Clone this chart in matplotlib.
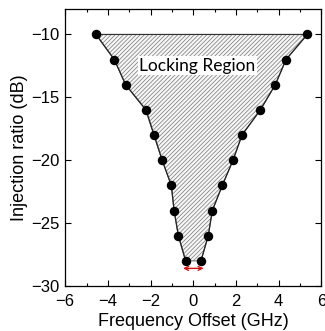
import matplotlib
matplotlib.use("Agg")
import matplotlib.pyplot as plt
import numpy as np
from matplotlib.ticker import MultipleLocator

# measured locking boundaries
ratio_db = [-10, -12, -14, -16, -18, -20, -22, -24, -26, -28]
left_ghz = [-4.56, -3.70, -3.17, -2.22, -1.84, -1.46, -1.03, -0.90, -0.70, -0.36]
right_ghz = [5.34, 4.34, 3.84, 3.14, 2.28, 1.86, 1.36, 0.89, 0.70, 0.36]

plt.rcParams["font.family"] = ["Liberation Sans", "DejaVu Sans"]
plt.rcParams["hatch.linewidth"] = 0.5
plt.rcParams["hatch.color"] = "#ababab"

fig = plt.figure(figsize=(3.25, 3.31), dpi=100)
ax = fig.add_axes([0.2006, 0.136, 0.7884, 0.836])

poly_x = left_ghz + right_ghz[::-1]
poly_y = ratio_db + ratio_db[::-1]
ax.fill(poly_x, poly_y, facecolor="#f6f6f6", edgecolor="#777777",
        hatch="////////", linewidth=0.8, zorder=1)
ax.plot([left_ghz[0], right_ghz[0]], [ratio_db[0], ratio_db[0]],
        color="#333333", lw=0.8, zorder=2)

for xs in (left_ghz, right_ghz):
    ax.plot(xs, ratio_db, color="#222222", lw=0.9, marker="o",
            markersize=5.8, markerfacecolor="black", markeredgecolor="black",
            zorder=3)

# red double arrow marking the minimum locking width
ax.annotate("", xy=(right_ghz[-1] + 0.12, -28.6), xytext=(left_ghz[-1] - 0.12, -28.6),
            arrowprops=dict(arrowstyle="<->", color="#d01010", lw=1.0,
                            shrinkA=0, shrinkB=0, mutation_scale=7))

ax.text(0.2, -12.5, "Locking Region", ha="center", va="center",
        fontsize=12.5, family=["Lato", "DejaVu Sans"],
        bbox=dict(facecolor="white", edgecolor="none", pad=1.0), zorder=4)

ax.set_xlim(-6, 6)
ax.set_ylim(-30, -8)
ax.xaxis.set_major_locator(MultipleLocator(2))
ax.xaxis.set_minor_locator(MultipleLocator(1))
ax.yaxis.set_major_locator(MultipleLocator(5))
ax.tick_params(which="both", direction="in", top=True, right=True,
               labelsize=12, width=0.8)
ax.tick_params(which="major", length=4)
ax.tick_params(which="minor", length=2)
ax.tick_params(axis="x", pad=6)
ax.tick_params(axis="y", pad=4)
ax.set_yticks([-30, -25, -20, -15, -10])
ax.set_xticks(np.arange(-6, 7, 2))
for s in ax.spines.values():
    s.set_linewidth(0.9)

ax.set_xlabel("Frequency Offset (GHz)", fontsize=13, labelpad=2.5)
ax.set_ylabel("Injection ratio (dB)", fontsize=13, labelpad=2)

fig.savefig("out.png", dpi=100)
